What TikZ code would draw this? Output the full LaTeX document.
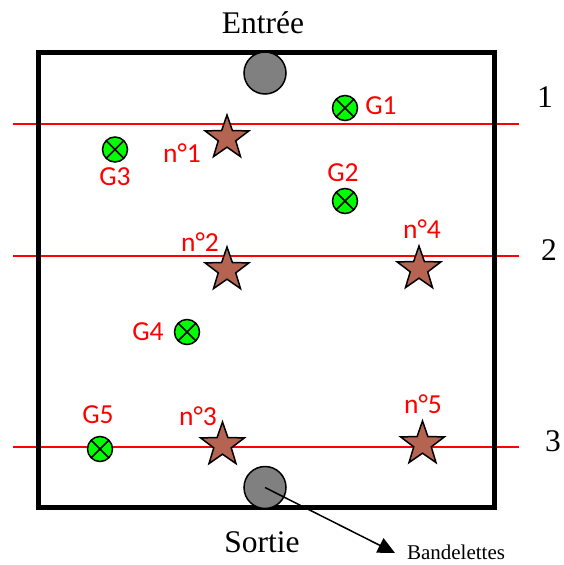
\documentclass[tikz,border=0pt]{standalone}
\usepackage{fontspec}
\setmainfont{Liberation Serif}
\newfontfamily\labfont{Carlito}
\usetikzlibrary{shapes.geometric,arrows.meta}
\definecolor{starbrown}{RGB}{180,100,80}
\definecolor{holegray}{RGB}{128,128,128}
\definecolor{gbright}{RGB}{0,255,0}
\tikzset{
  wall/.style={draw=black,line width=4.5pt},
  strip/.style={draw=red,line width=1.5pt},
  hole/.style={circle,draw=black,line width=1.5pt,fill=holegray,minimum size=42pt,inner sep=0pt},
  mstar/.style={star,star points=5,star point ratio=2.5,draw=black,line width=1.5pt,fill=starbrown,minimum size=46pt,inner sep=0pt},
  gcirc/.style={circle,draw=black,line width=1.5pt,fill=gbright,minimum size=25pt,inner sep=0pt,
    path picture={\draw[black,line width=1.5pt] (path picture bounding box.north west) -- (path picture bounding box.south east) (path picture bounding box.north east) -- (path picture bounding box.south west);}},
  redlab/.style={anchor=base,text=red,font=\labfont\fontsize{27.5}{31}\selectfont,inner sep=0pt},
  serlab/.style={anchor=base,font=\fontsize{31.5}{35}\selectfont,inner sep=0pt},
  smalllab/.style={anchor=base,font=\fontsize{21}{25}\selectfont,inner sep=0pt},
}
\begin{document}
\begin{tikzpicture}[x=1pt,y=-1pt]
\useasboundingbox (0,0) rectangle (563,565);
% strips
\coordinate (l1a) at (13,124); \coordinate (l1b) at (519,124);
\coordinate (l2a) at (13,256); \coordinate (l2b) at (519,256);
\coordinate (l3a) at (13,447); \coordinate (l3b) at (519,447);
\draw[strip] (l1a) -- (l1b);
\draw[strip] (l2a) -- (l2b);
\draw[strip] (l3a) -- (l3b);
% room
\coordinate (rnw) at (38.5,52.5); \coordinate (rse) at (494.5,507.5);
\draw[wall] (rnw) rectangle (rse);
% holes
\node[hole] (entree) at (265,73) {};
\node[hole] (sortie) at (265,487.5) {};
% stars
\node[mstar] (s1) at (227,138) {};
\node[mstar] (s2) at (227,270) {};
\node[mstar] (s3) at (222.5,445) {};
\node[mstar] (s4) at (419,269) {};
\node[mstar] (s5) at (422.5,444) {};
% green
\node[gcirc] (g1) at (345,108) {};
\node[gcirc] (g2) at (345,201) {};
\node[gcirc] (g3) at (115,149.5) {};
\node[gcirc] (g4) at (187,332) {};
\node[gcirc] (g5) at (100,449) {};
% labels
\node[redlab] (t1) at (182,162) {n°1};
\node[redlab] (t2) at (200,251) {n°2};
\node[redlab] (t3) at (198,425) {n°3};
\node[redlab] (t4) at (422,238) {n°4};
\node[redlab] (t5) at (423,413) {n°5};
\node[redlab] (tg1) at (381,114) {G1};
\node[redlab] (tg2) at (343,181) {G2};
\node[redlab] (tg3) at (115,185) {G3};
\node[redlab] (tg4) at (148,340) {G4};
\node[redlab] (tg5) at (98,423) {G5};
\node[serlab] (n1) at (545,107) {1};
\node[serlab] (n2) at (549,260) {2};
\node[serlab] (n3) at (553,451) {3};
\node[serlab] (ent) at (263,33) {Entrée};
\node[serlab] (sor) at (262,552) {Sortie};
\node[smalllab] (band) at (456,559) {Bandelettes};
% arrow
\coordinate (tip) at (395,553);
\draw[black,line width=1.5pt,-{Triangle[length=17pt,width=16pt]}] (sortie.center) -- (tip);
\end{tikzpicture}
\end{document}
